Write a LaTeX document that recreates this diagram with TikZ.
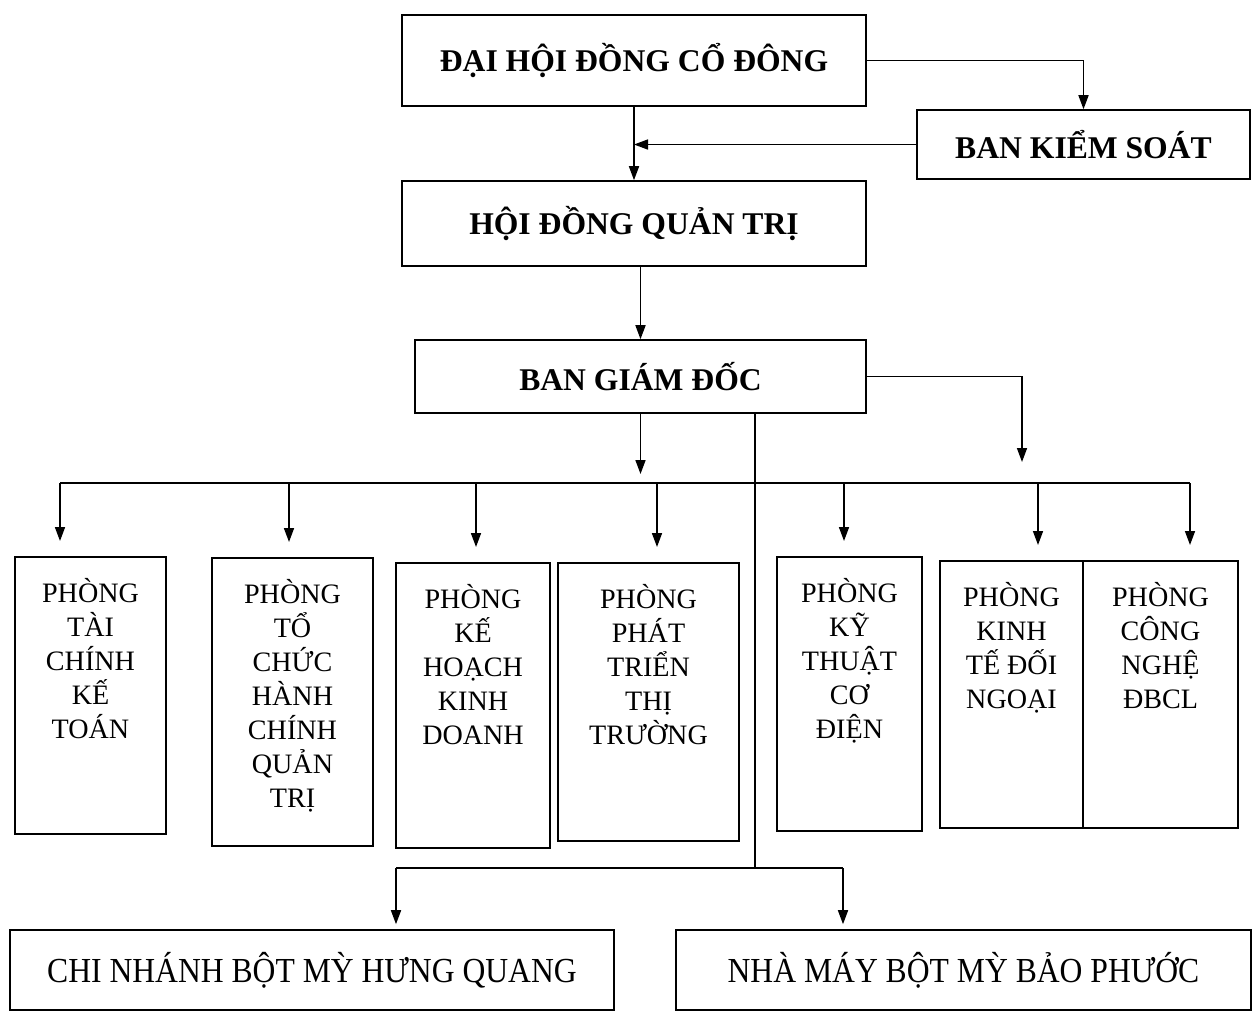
\documentclass[tikz,border=0pt]{standalone}
\usepackage{fontspec}
\setmainfont{Liberation Serif}
\newfontfamily\unitfont[FakeStretch=0.9]{Liberation Serif}
\usetikzlibrary{arrows.meta}
\usetikzlibrary{positioning}

\tikzset{
  box/.style={draw, line width=0.9pt, font=\fontsize{18}{21}\selectfont\bfseries},
  dept/.style={draw, line width=0.9pt, anchor=north},
  depttext/.style={align=center, inner sep=0pt, font=\fontsize{16}{19.3}\selectfont},
  unit/.style={draw, line width=0.9pt, font=\unitfont\fontsize{20}{24}\selectfont},
  ln/.style={line width=0.9pt},
  arr/.style={ln, -{Triangle[length=0.28cm,width=0.2cm]}}
}

\begin{document}
\begin{tikzpicture}[x=0.02cm, y=-0.02cm]
    \useasboundingbox (0,0) rectangle (1254,1012);

    % Management boxes
    \node[box, minimum width=9.28cm, minimum height=1.82cm] (dhdcd) at (634,60.5) {ĐẠI HỘI ĐỒNG CỔ ĐÔNG};
    \node[box, minimum width=6.66cm, minimum height=1.38cm] (bks) at (1083.5,144.5) {BAN KIỂM SOÁT};
    \node[box, minimum width=9.28cm, minimum height=1.70cm] (hdqt) at (634,223.5) {HỘI ĐỒNG QUẢN TRỊ};
    \node[box, minimum width=9.02cm, minimum height=1.46cm] (bgd) at (640.5,376.5) {BAN GIÁM ĐỐC};

    % Departments
    \foreach \n/\x/\y/\w/\h/\t in {
        p1/90.5/556/3.02/5.54/{PHÒNG\\TÀI\\CHÍNH\\KẾ\\TOÁN},
        p2/292.5/557/3.22/5.76/{PHÒNG\\TỔ\\CHỨC\\HÀNH\\CHÍNH\\QUẢN\\TRỊ},
        p3/473/562/3.08/5.70/{PHÒNG\\KẾ\\HOẠCH\\KINH\\DOANH},
        p4/648.5/562/3.62/5.56/{PHÒNG\\PHÁT\\TRIỂN\\THỊ\\TRƯỜNG},
        p5/849.5/556/2.90/5.48/{PHÒNG\\KỸ\\THUẬT\\CƠ\\ĐIỆN},
        p6/1011.5/560/2.86/5.34/{PHÒNG\\KINH\\TẾ ĐỐI\\NGOẠI},
        p7/1160.5/560/3.10/5.34/{PHÒNG\\CÔNG\\NGHỆ\\ĐBCL}} {
      \node[dept, minimum width=\w cm, minimum height=\h cm] (\n) at (\x,\y) {};
      \node[depttext, below=0.45cm of \n.north] (\n t) {\t};
    }

    % Branch and factory
    \node[unit, minimum width=12.08cm, minimum height=1.6cm] (cn1) at (312,970) {CHI NHÁNH BỘT MỲ HƯNG QUANG};
    \node[unit, minimum width=11.5cm, minimum height=1.6cm] (cn2) at (963.5,970) {NHÀ MÁY BỘT MỲ BẢO PHƯỚC};

    % Connect the nodes
    \draw[arr] (dhdcd.east) -| (bks.north);
    \draw[arr] (dhdcd.south) -- (hdqt.north);
    \draw[arr] (bks.west) -- (bks.west -| dhdcd.south);
    \draw[arr] (bgd.north |- hdqt.south) -- (bgd.north);

    \coordinate (tipM) at (640.5,474);
    \coordinate (tipR) at (1022,462);
    \draw[arr] (bgd.south) -- (tipM);
    \draw[arr] (bgd.east) -| (tipR);

    % Bus to the departments
    \coordinate (busL) at (60,483);
    \coordinate (busR) at (1190,483);
    \draw[ln] (busL) -- (busR);
    \foreach \x/\n in {60/p1, 289/p2, 476/p3, 657/p4, 844/p5, 1038/p6, 1190/p7} {
      \coordinate (b\n) at (\x,483);
      \draw[arr, shorten >=0.3cm] (b\n) -- (b\n |- \n.north);
    }

    % Line down to the branch and factory
    \coordinate (brC) at (755,868);
    \coordinate (brL) at (396,868);
    \coordinate (brR) at (843,868);
    \draw[ln] (bgd.south -| brC) -- (brC);
    \draw[ln] (brL) -- (brR);
    \draw[arr, shorten >=0.1cm] (brL) -- (brL |- cn1.north);
    \draw[arr, shorten >=0.1cm] (brR) -- (brR |- cn2.north);
\end{tikzpicture}
\end{document}
